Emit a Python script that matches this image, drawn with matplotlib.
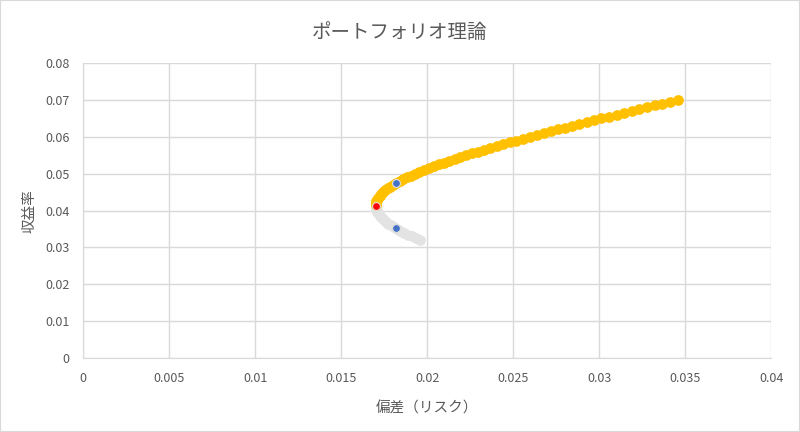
import matplotlib.pyplot as plt
from matplotlib.patches import Rectangle

plt.rcParams['font.family'] = ['Noto Sans CJK JP', 'DejaVu Sans']

# efficient frontier (upper branch)
upper_risk = [0.01700, 0.01702, 0.01705, 0.01709, 0.01716, 0.01723, 0.01733, 0.01744,
              0.01756, 0.01770, 0.01785, 0.01802, 0.01820, 0.01840, 0.01860, 0.01882,
              0.01906, 0.01930, 0.01955, 0.01982, 0.02009, 0.02038, 0.02067, 0.02097,
              0.02128, 0.02160, 0.02193, 0.02227, 0.02261, 0.02296, 0.02332, 0.02368,
              0.02405, 0.02442, 0.02480, 0.02518, 0.02557, 0.02597, 0.02637, 0.02677,
              0.02718, 0.02759, 0.02801, 0.02842, 0.02885, 0.02927, 0.02970, 0.03013,
              0.03057, 0.03101, 0.03145, 0.03189, 0.03233, 0.03278, 0.03323, 0.03368,
              0.03414, 0.03459]
upper_return = [0.0415, 0.0420, 0.0425, 0.0430, 0.0435, 0.0440, 0.0445, 0.0450,
                0.0455, 0.0460, 0.0465, 0.0470, 0.0475, 0.0480, 0.0485, 0.0490,
                0.0495, 0.0500, 0.0505, 0.0510, 0.0515, 0.0520, 0.0525, 0.0530,
                0.0535, 0.0540, 0.0545, 0.0550, 0.0555, 0.0560, 0.0565, 0.0570,
                0.0575, 0.0580, 0.0585, 0.0590, 0.0595, 0.0600, 0.0605, 0.0610,
                0.0615, 0.0620, 0.0625, 0.0630, 0.0635, 0.0640, 0.0645, 0.0650,
                0.0655, 0.0660, 0.0665, 0.0670, 0.0675, 0.0680, 0.0685, 0.0690,
                0.0695, 0.0700]

# inefficient (lower) branch
lower_risk = [0.01700, 0.01702, 0.01706, 0.01711, 0.01717, 0.01725, 0.01735, 0.01746,
              0.01759, 0.01773, 0.01789, 0.01806, 0.01824, 0.01844, 0.01865, 0.01887,
              0.01910, 0.01935, 0.01960]
lower_return = [0.0410, 0.0405, 0.0400, 0.0395, 0.0390, 0.0385, 0.0380, 0.0375,
                0.0370, 0.0365, 0.0360, 0.0355, 0.0350, 0.0345, 0.0340, 0.0335,
                0.0330, 0.0325, 0.0320]

# minimum variance portfolio and the two assets
minvar_risk = [0.0170]
minvar_return = [0.0413]
asset_risk = [0.0182, 0.0182]
asset_return = [0.0474, 0.0353]

text_color = '#595959'
grid_color = '#d9d9d9'

fig = plt.figure(figsize=(8, 4.32), dpi=100)
ax = fig.add_axes([0.104, 0.171, 0.86, 0.683])

ax.scatter(lower_risk, lower_return, s=60, color='#e3e3e3', zorder=3, linewidths=0)
ax.scatter(upper_risk, upper_return, s=60, color='#ffc000', zorder=3, linewidths=0)
ax.scatter(minvar_risk, minvar_return, s=32, color='#ff0000', edgecolors='#e0e0e0',
           linewidths=0.8, zorder=4)
ax.scatter(asset_risk, asset_return, s=32, color='#4472c4', edgecolors='#e0e0e0',
           linewidths=0.8, zorder=4)

ax.set_xlim(0, 0.04)
ax.set_ylim(0, 0.08)
ax.set_xticks([0, 0.005, 0.01, 0.015, 0.02, 0.025, 0.03, 0.035, 0.04])
ax.set_xticklabels(['0', '0.005', '0.01', '0.015', '0.02', '0.025', '0.03', '0.035', '0.04'])
ax.set_yticks([0, 0.01, 0.02, 0.03, 0.04, 0.05, 0.06, 0.07, 0.08])
ax.set_yticklabels(['0', '0.01', '0.02', '0.03', '0.04', '0.05', '0.06', '0.07', '0.08'])
ax.grid(True, color=grid_color, linewidth=1)
ax.set_axisbelow(True)
for side in ['top', 'right']:
    ax.spines[side].set_visible(False)
for side in ['left', 'bottom']:
    ax.spines[side].set_color(grid_color)
ax.tick_params(length=0, labelsize=9, colors=text_color, pad=10)

ax.set_xlabel('偏差（リスク）', fontsize=10.5, color=text_color, labelpad=12)
ax.set_ylabel('収益率', fontsize=10.5, color=text_color, labelpad=6)
fig.suptitle('ポートフォリオ理論', fontsize=14, color=text_color, y=0.95)

fig.patches.append(Rectangle((0, 0), 1, 1, transform=fig.transFigure, fill=False,
                             edgecolor=grid_color, linewidth=1.5))

fig.savefig('out.png', dpi=100)
